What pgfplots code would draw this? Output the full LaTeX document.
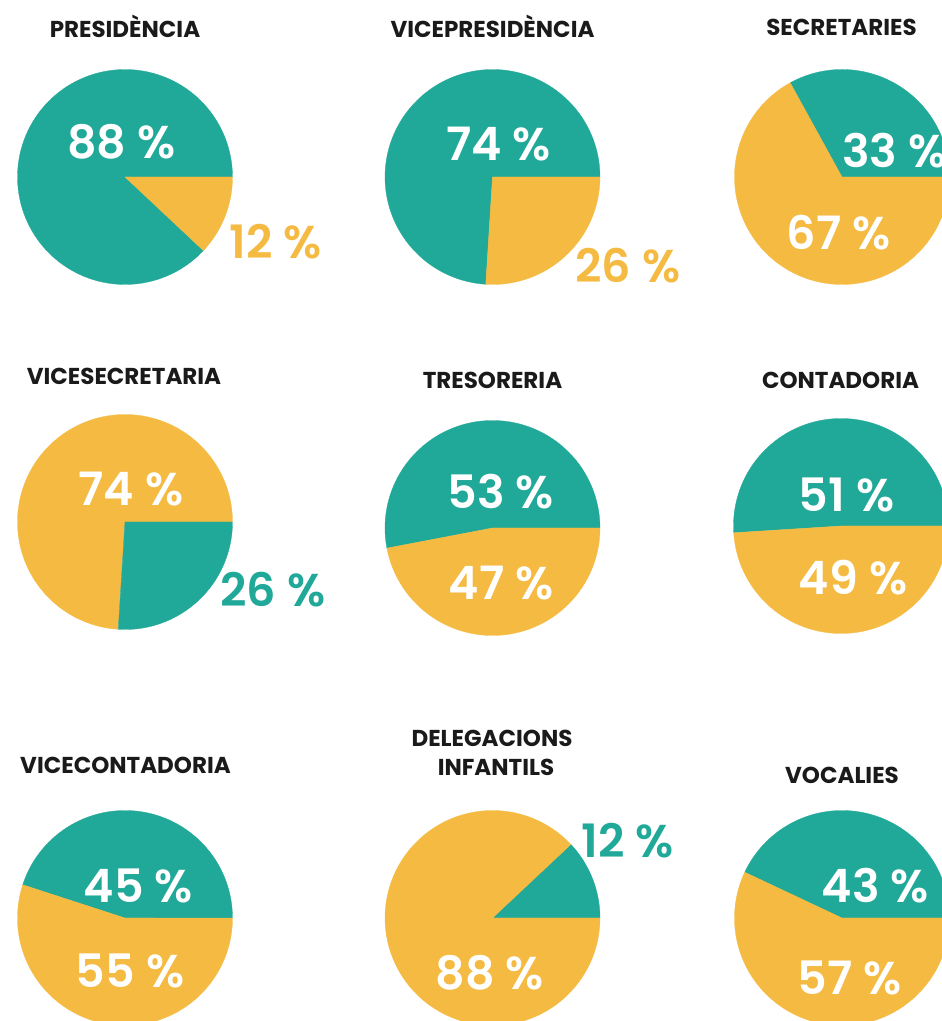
\documentclass[border=0pt]{standalone}
\usepackage{pgfplots}
\pgfplotsset{compat=1.18}
\usepackage{fontspec}
\setmainfont{Poppins}
\newfontfamily\semi{Poppins SemiBold}

\definecolor{teal}{HTML}{20A898}
\definecolor{gold}{HTML}{F4BA41}
\definecolor{ink}{HTML}{1A1A1A}

% one pie: centre x, centre y, share of the first slice (%), first colour, second colour
\newcommand{\pie}[5]{%
  \addplot[fill=#4, draw=#4, line width=0.3pt, domain=0:{#3*3.6}, samples=120]
    ({#1+107.5*cos(x)}, {#2+107.5*sin(x)}) -- (axis cs:#1,#2) -- cycle;
  \addplot[fill=#5, draw=#5, line width=0.3pt, domain={#3*3.6}:360, samples=120]
    ({#1+107.5*cos(x)}, {#2+107.5*sin(x)}) -- (axis cs:#1,#2) -- cycle;
}
\tikzset{
  ttl/.style={anchor=base, font=\bfseries\fontsize{23}{29}\selectfont, text=ink, align=center, inner sep=0pt},
  pct/.style={anchor=base, font=\semi\fontsize{46}{54}\selectfont, inner sep=0pt},
}

\begin{document}
\begin{tikzpicture}
\useasboundingbox (0,0) rectangle (942pt,1021pt);
\clip (0,0) rectangle (942pt,1021pt);
\begin{axis}[
  at={(0,0)}, anchor=south west,
  scale only axis, width=942pt, height=1021pt,
  xmin=0, xmax=942, ymin=0, ymax=1021,
  hide axis, clip=true,
]
% row 1
\pie{125}{844}{88}{teal}{gold}
\pie{492.5}{844}{74}{teal}{gold}
\pie{842}{844}{33}{teal}{gold}
% row 2
\pie{125}{499}{74}{gold}{teal}
\pie{492.5}{493}{53}{teal}{gold}
\pie{841}{495}{51}{teal}{gold}
% row 3
\pie{125}{103}{45}{teal}{gold}
\pie{492.5}{103}{12}{teal}{gold}
\pie{842}{103}{43}{teal}{gold}

% titles
\node[ttl] at (axis cs:125,983) {PRESIDÈNCIA};
\node[ttl] at (axis cs:492.5,983) {VICEPRESIDÈNCIA};
\node[ttl] at (axis cs:841.5,985) {SECRETARIES};
\node[ttl] at (axis cs:124,636) {VICESECRETARIA};
\node[ttl] at (axis cs:492.5,632) {TRESORERIA};
\node[ttl] at (axis cs:840.5,632) {CONTADORIA};
\node[ttl] at (axis cs:125.5,247) {VICECONTADORIA};
\node[ttl] at (axis cs:492,274) {DELEGACIONS};
\node[ttl] at (axis cs:496,245) {INFANTILS};
\node[ttl] at (axis cs:842,237) {VOCALIES};

% percentages
\node[pct, text=white] at (axis cs:121.5,862) {88 \%};
\node[pct, text=gold]  at (axis cs:275.5,762) {12 \%};
\node[pct, text=white] at (axis cs:498.5,860) {74 \%};
\node[pct, text=gold]  at (axis cs:628,738) {26 \%};
\node[pct, text=white, anchor=base west] at (axis cs:842,853) {33 \%};
\node[pct, text=white] at (axis cs:838.5,771) {67 \%};

\node[pct, text=white] at (axis cs:131,515) {74 \%};
\node[pct, text=teal]  at (axis cs:273,414) {26 \%};
\node[pct, text=white] at (axis cs:501,512) {53 \%};
\node[pct, text=white] at (axis cs:501,421) {47 \%};
\node[pct, text=white] at (axis cs:846.5,509) {51 \%};
\node[pct, text=white] at (axis cs:853,426) {49 \%};

\node[pct, text=white] at (axis cs:138.5,118) {45 \%};
\node[pct, text=white] at (axis cs:130,33) {55 \%};
\node[pct, text=teal]  at (axis cs:627.5,163) {12 \%};
\node[pct, text=white] at (axis cs:490,31) {88 \%};
\node[pct, text=white] at (axis cs:875.5,118) {43 \%};
\node[pct, text=white] at (axis cs:849.5,26) {57 \%};
\end{axis}
\end{tikzpicture}
\end{document}
